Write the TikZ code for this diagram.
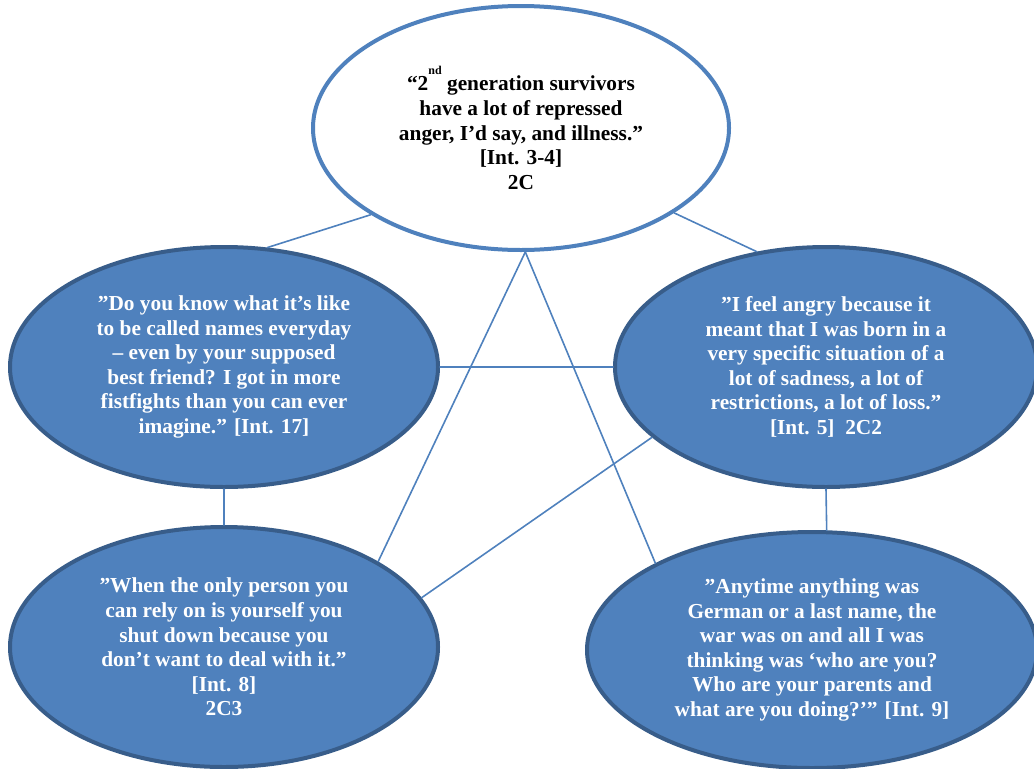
\documentclass[tikz,border=0pt]{standalone}
\usepackage{fontspec}
\setmainfont{Liberation Serif}
\usetikzlibrary{shapes.geometric}
\definecolor{officeblue}{HTML}{4F81BD}
\definecolor{officeedge}{HTML}{385D8A}
\begin{document}
\begin{tikzpicture}[x=0.75pt, y=-0.75pt, line join=round, line cap=round,
    every node/.style={font=\fontsize{16}{18.4}\selectfont\bfseries, align=center},
    bubble/.style={ellipse, fill=officeblue, draw=officeedge, line width=3pt, text=white, inner sep=0pt},
    link/.style={draw=officeblue, line width=1.2pt}]
    \useasboundingbox (0,0) rectangle (1034,768);
    % centre bubble
    \node[ellipse, draw=officeblue, fill=white, line width=3pt, inner sep=0pt, minimum width=312pt, minimum height=183pt] (top) at (521,128)
        {“2\raisebox{0.75em}{\fontsize{9}{9}\selectfont nd} generation survivors\\ have a lot of repressed\\ anger, I’d say, and illness.”\\ {[Int. 3-4]}\\ 2C};
    % quotes round it
    \node[bubble, minimum width=321pt, minimum height=180pt] (left) at (224,367)
        {”Do you know what it’s like\\ to be called names everyday\\ – even by your supposed\\ best friend? I got in more\\ fistfights than you can ever\\ imagine.” [Int. 17]};
    \node[bubble, minimum width=316.5pt, minimum height=180pt] (right) at (826,367)
        {”I feel angry because it\\ meant that I was born in a\\ very specific situation of a\\ lot of sadness, a lot of\\ restrictions, a lot of loss.”\\ {[Int. 5]\ \ 2C2}};
    \node[bubble, minimum width=321pt, minimum height=180pt] (botleft) at (224,647)
        {”When the only person you\\ can rely on is yourself you\\ shut down because you\\ don’t want to deal with it.”\\ {[Int. 8]}\\ 2C3};
    \node[bubble, minimum width=337.5pt, minimum height=177pt] (botright) at (812,650)
        {”Anytime anything was\\ German or a last name, the\\ war was on and all I was\\ thinking was ‘who are you?\\ Who are your parents and\\ what are you doing?’” [Int. 9]};
    % links
    \draw[link] (top.210) -- (left.70);
    \draw[link] (top.331) -- (right.121);
    \draw[link] (left.east) -- (right.west);
    \draw[link] (left.south) -- (botleft.north);
    \draw[link] (right.south) -- (botright.83);
    \draw[link] (top.272) -- (botleft.29);
    \draw[link] (top.272) -- (botright.151);
    \draw[link] (right.202) -- (botleft.14);
\end{tikzpicture}
\end{document}
